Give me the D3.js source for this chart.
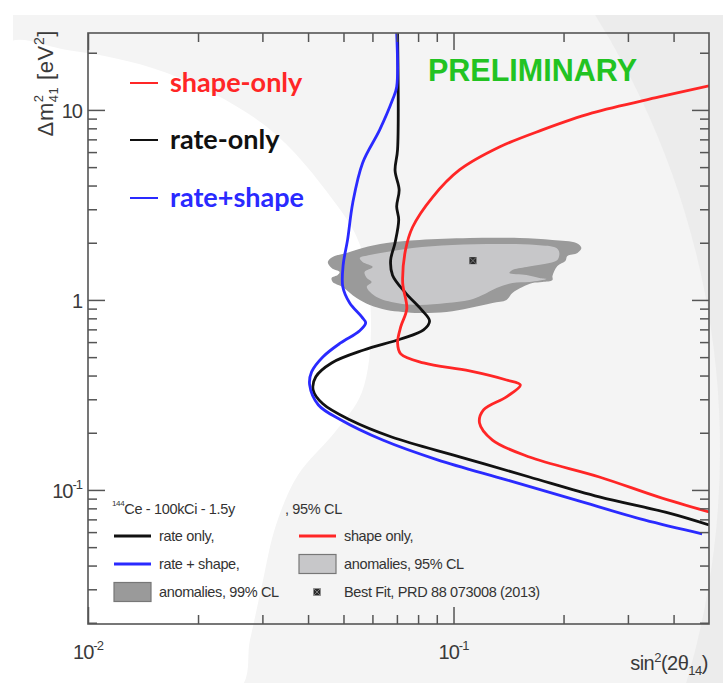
<!DOCTYPE html>
<html>
<head>
<meta charset="utf-8">
<script src="https://cdn.jsdelivr.net/npm/d3@7"></script>
<style>
  body { margin: 0; background: #fff; }
  svg { display: block; }
</style>
</head>
<body>
<svg id="chart" width="723" height="683"></svg>
<script>
// ---- axis ranges -------------------------------------------------------
const xDomain = [0.01, 0.5];        // sin^2(2θ14)
const yDomain = [0.0197, 25.4];     // Δm^2_41 [eV^2]

const xMajorTicks = [0.01, 0.1];
const xMinorTicks = [0.02, 0.03, 0.04, 0.05, 0.06, 0.07, 0.08, 0.09, 0.2, 0.3, 0.4];
const yMajorTicks = [0.1, 1, 10];
const yMinorTicks = [0.02, 0.03, 0.04, 0.05, 0.06, 0.07, 0.08, 0.09,
                     0.2, 0.3, 0.4, 0.5, 0.6, 0.7, 0.8, 0.9,
                     2, 3, 4, 5, 6, 7, 8, 9, 20];
const xTickLabels = [{ v: 0.01, base: "10", exp: "-2" }, { v: 0.1, base: "10", exp: "-1" }];
const yTickLabels = [{ v: 10, base: "10", exp: "" }, { v: 1, base: "1", exp: "" }, { v: 0.1, base: "10", exp: "-1" }];

// ---- exclusion contours, 95% CL (points: [sin^2(2θ), Δm^2]) --------------
const rateOnly = [
  [0.0703, 25.4], [0.0703, 6.2], [0.0692, 4.8], [0.0710, 3.8], [0.0699, 3.1],
  [0.0708, 2.64], [0.0692, 2.0], [0.0673, 1.62], [0.0681, 1.35], [0.0739, 1.09],
  [0.0818, 0.886], [0.0860, 0.775], [0.0828, 0.695], [0.0717, 0.623], [0.0568, 0.545],
  [0.0464, 0.466], [0.0420, 0.394], [0.0413, 0.336], [0.0439, 0.284], [0.0520, 0.234],
  [0.0677, 0.190], [0.1045, 0.149], [0.1613, 0.117], [0.2506, 0.0919], [0.3867, 0.0757],
  [0.5, 0.0654]
];
const rateShape = [
  [0.0699, 25.4], [0.0699, 13.2], [0.0681, 11.3], [0.0628, 7.85], [0.0564, 5.26],
  [0.0530, 3.24], [0.0513, 2.07], [0.0499, 1.53], [0.0498, 1.17], [0.0520, 0.964],
  [0.0561, 0.814], [0.0575, 0.757], [0.0552, 0.685], [0.0491, 0.594], [0.0439, 0.501],
  [0.0409, 0.418], [0.0404, 0.357], [0.0427, 0.280], [0.0491, 0.234], [0.0640, 0.183],
  [0.0904, 0.144], [0.1396, 0.113], [0.2154, 0.0886], [0.3325, 0.0695], [0.4786, 0.0587]
];
const shapeOnly = [
  [0.5, 13.4], [0.3654, 11.7], [0.2398, 9.64], [0.175, 7.85], [0.1335, 6.38],
  [0.1038, 4.83], [0.0877, 3.48], [0.0773, 2.42], [0.0739, 1.83], [0.0726, 1.23],
  [0.0745, 0.90], [0.0717, 0.721], [0.0703, 0.594], [0.0717, 0.52], [0.0828, 0.466],
  [0.1106, 0.423], [0.1396, 0.379], [0.1524, 0.357], [0.1396, 0.309], [0.1208, 0.264],
  [0.1178, 0.225], [0.1278, 0.183], [0.1613, 0.149], [0.2506, 0.117], [0.3632, 0.0919],
  [0.5, 0.0766]
];

// ---- reactor/gallium anomaly allowed regions ---------------------------
const anomalies99 = [
  [0.0453, 1.585], [0.0467, 1.684], [0.0510, 1.768], [0.0564, 1.878], [0.0656, 1.995],
  [0.0807, 2.07], [0.1106, 2.12], [0.1515, 2.12], [0.1865, 2.07], [0.2168, 1.995],
  [0.2238, 1.878], [0.2183, 1.768], [0.2049, 1.704], [0.2023, 1.604], [0.1924, 1.51],
  [0.1865, 1.338], [0.1865, 1.274], [0.1751, 1.244], [0.1644, 1.229], [0.1544, 1.171],
  [0.1449, 1.089], [0.1396, 1.0], [0.1278, 0.964], [0.1106, 0.908], [0.0957, 0.865],
  [0.0807, 0.854], [0.0725, 0.865], [0.0656, 0.886], [0.0590, 0.941], [0.0543, 1.024],
  [0.0497, 1.171], [0.0467, 1.244], [0.0464, 1.306], [0.0482, 1.354], [0.0488, 1.404],
  [0.0464, 1.474]
];
const anomalies95 = [
  [0.0554, 1.663], [0.0590, 1.725], [0.0656, 1.789], [0.0773, 1.878], [0.0994, 1.948],
  [0.1361, 1.971], [0.1686, 1.948], [0.1912, 1.878], [0.1948, 1.768], [0.1924, 1.624],
  [0.1829, 1.566], [0.1583, 1.492], [0.1449, 1.438], [0.1422, 1.387], [0.1583, 1.354],
  [0.1718, 1.306], [0.1795, 1.29], [0.1613, 1.244], [0.1449, 1.229], [0.1311, 1.157],
  [0.1200, 1.062], [0.1106, 1.0], [0.0957, 0.964], [0.0807, 0.941], [0.0699, 0.964],
  [0.0616, 1.037], [0.0579, 1.171], [0.0597, 1.244], [0.0579, 1.306], [0.0571, 1.404],
  [0.0601, 1.492], [0.0564, 1.585]
];
const bestFit = [0.113, 1.61];

// ---- colours -----------------------------------------------------------
const colRate = "#111111", colShape = "#ff2626", colBoth = "#2a2aff";
const col95 = "#c7c7c9", col99 = "#9a9a9a";

// ---- layout ------------------------------------------------------------
const W = 723, H = 683;
const plot = { left: 88, top: 33, right: 709, bottom: 624 };
const svg = d3.select("#chart");

const x = d3.scaleLog().domain(xDomain).range([plot.left, plot.right]);
const y = d3.scaleLog().domain(yDomain).range([plot.bottom, plot.top]);

// slide background: grey panel with soft light swirls
svg.append("rect").attr("width", W).attr("height", H).attr("fill", "#fff");
const bg = svg.append("g");
bg.append("clipPath").attr("id", "panel")
  .append("rect").attr("x", 13).attr("y", 15).attr("width", W - 13).attr("height", H - 15);
const bgInner = bg.append("g").attr("clip-path", "url(#panel)");
bgInner.append("rect").attr("x", 13).attr("y", 15).attr("width", W).attr("height", H).attr("fill", "#ececec");
bgInner.append("circle").attr("cx", -100).attr("cy", 450).attr("r", 820).attr("fill", "#f4f4f4");
const blob = [[0, 47], [67, 50], [167, 73], [267, 127], [333, 200], [360, 245], [371, 320],
              [362, 392], [335, 432], [298, 475], [276, 525], [262, 585], [250, 640], [238, 690],
              [0, 690]];
bgInner.append("path")
  .attr("d", d3.line().curve(d3.curveCatmullRomClosed)(blob))
  .attr("fill", "#ffffff");

// ---- plot area ---------------------------------------------------------
svg.append("clipPath").attr("id", "plotClip")
  .append("rect").attr("x", plot.left).attr("y", plot.top)
  .attr("width", plot.right - plot.left).attr("height", plot.bottom - plot.top);
const g = svg.append("g").attr("clip-path", "url(#plotClip)");

const area = d3.line().x(d => x(d[0])).y(d => y(d[1])).curve(d3.curveCatmullRomClosed.alpha(0.5));
g.append("path").attr("d", area(anomalies99)).attr("fill", col99);
g.append("path").attr("d", area(anomalies95)).attr("fill", col95);

const line = d3.line().x(d => x(d[0])).y(d => y(d[1])).curve(d3.curveCatmullRom.alpha(0.5));
[[rateOnly, colRate], [rateShape, colBoth], [shapeOnly, colShape]].forEach(([data, c]) => {
  g.append("path").attr("d", line(data)).attr("fill", "none")
    .attr("stroke", c).attr("stroke-width", 2.8).attr("stroke-linejoin", "round");
});

// best-fit marker
function bestFitMarker(sel, cx, cy) {
  sel.append("rect").attr("x", cx - 3.5).attr("y", cy - 3.5).attr("width", 7).attr("height", 7)
    .attr("fill", "#2a2a2a");
  sel.append("path")
    .attr("d", `M${cx - 3.5},${cy - 3.5}L${cx + 3.5},${cy + 3.5}M${cx + 3.5},${cy - 3.5}L${cx - 3.5},${cy + 3.5}`)
    .attr("stroke", "#777").attr("stroke-width", 1);
}
bestFitMarker(g, x(bestFit[0]), y(bestFit[1]));

// ---- axes (ROOT style: ticks inside on all four sides) -----------------
const axisCol = "#555";
function addAxis(axisFn, scale, ticks, size, transform) {
  const a = svg.append("g").attr("transform", transform)
    .call(axisFn(scale).tickValues(ticks).tickSize(-size).tickFormat(""));
  a.select(".domain").remove();
  a.selectAll("line").attr("stroke", axisCol).attr("stroke-width", 1.5);
}
addAxis(d3.axisBottom, x, xMajorTicks, 17, `translate(0,${plot.bottom})`);
addAxis(d3.axisBottom, x, xMinorTicks, 9, `translate(0,${plot.bottom})`);
addAxis(d3.axisTop, x, xMajorTicks, 17, `translate(0,${plot.top})`);
addAxis(d3.axisTop, x, xMinorTicks, 9, `translate(0,${plot.top})`);
addAxis(d3.axisLeft, y, yMajorTicks, 17, `translate(${plot.left},0)`);
addAxis(d3.axisLeft, y, yMinorTicks, 9, `translate(${plot.left},0)`);
addAxis(d3.axisRight, y, yMajorTicks, 17, `translate(${plot.right},0)`);
addAxis(d3.axisRight, y, yMinorTicks, 9, `translate(${plot.right},0)`);

svg.append("rect").attr("x", plot.left).attr("y", plot.top)
  .attr("width", plot.right - plot.left).attr("height", plot.bottom - plot.top)
  .attr("fill", "none").attr("stroke", axisCol).attr("stroke-width", 1.6);

// tick labels
const labelFont = "'Liberation Sans', Arial, sans-serif";
const txtCol = "#3a3a3a";
xTickLabels.forEach(t => {
  const tx = svg.append("text").attr("x", x(t.v)).attr("y", 659)
    .attr("text-anchor", "middle").attr("font-family", labelFont)
    .attr("font-size", 20).attr("fill", txtCol).attr("letter-spacing", -1);
  tx.append("tspan").text(t.base);
  if (t.exp) tx.append("tspan").attr("dy", -9).attr("font-size", 13).text(t.exp);
});
yTickLabels.forEach(t => {
  const tx = svg.append("text").attr("x", 82).attr("y", y(t.v) + 8)
    .attr("text-anchor", "end").attr("font-family", labelFont)
    .attr("font-size", 20).attr("fill", txtCol).attr("letter-spacing", -1);
  tx.append("tspan").text(t.base);
  if (t.exp) tx.append("tspan").attr("dy", -9).attr("font-size", 13).text(t.exp);
});

// axis titles
const xt = svg.append("text").attr("x", 708).attr("y", 670).attr("text-anchor", "end")
  .attr("font-family", labelFont).attr("font-size", 20).attr("fill", txtCol).attr("letter-spacing", -0.5);
xt.append("tspan").text("sin");
xt.append("tspan").attr("dy", -8).attr("font-size", 13).text("2");
xt.append("tspan").attr("dy", 8).text("(2θ");
xt.append("tspan").attr("dy", 5).attr("font-size", 13).text("14");
xt.append("tspan").attr("dy", -5).text(")");

const yt = svg.append("text").attr("transform", "translate(53,30) rotate(-90)")
  .attr("text-anchor", "end").attr("font-family", labelFont).attr("font-size", 22)
  .attr("fill", txtCol).attr("letter-spacing", 0.6);
yt.append("tspan").text("Δm");
yt.append("tspan").attr("dy", -10).attr("font-size", 13).text("2");
yt.append("tspan").attr("dx", -8).attr("dy", 15).attr("font-size", 13).text("41");
yt.append("tspan").attr("dy", -5).text(" [eV");
yt.append("tspan").attr("dy", -9).attr("font-size", 14).text("2");
yt.append("tspan").attr("dy", 9).text("]");

// ---- big legend (top left) ----------------------------------------------
const bigFont = "Lato, 'Open Sans', sans-serif";
const bigLegend = [
  { label: "shape-only", color: colShape, y: 83 },
  { label: "rate-only", color: colRate, y: 140 },
  { label: "rate+shape", color: colBoth, y: 198 }
];
bigLegend.forEach(d => {
  svg.append("line").attr("x1", 130).attr("x2", 158).attr("y1", d.y).attr("y2", d.y)
    .attr("stroke", d.color).attr("stroke-width", 2);
  svg.append("text").attr("x", 170).attr("y", d.y + 9).attr("font-family", bigFont)
    .attr("font-weight", 700).attr("font-size", 27).attr("fill", d.color).text(d.label);
});

svg.append("text").attr("x", 428).attr("y", 81).attr("font-family", labelFont)
  .attr("font-weight", 700).attr("font-size", 30.5).attr("fill", "#22c322").text("PRELIMINARY");

// ---- ROOT legend (bottom left) -------------------------------------------
const smallFont = "'Liberation Sans', Arial, sans-serif";
const lg = svg.append("g").attr("font-family", smallFont).attr("font-size", 14.5)
  .attr("fill", "#333").attr("letter-spacing", -0.35);
const head = lg.append("text").attr("x", 112).attr("y", 514);
head.append("tspan").attr("font-size", 8).attr("dy", -8).text("144");
head.append("tspan").attr("dy", 8).text("Ce - 100kCi - 1.5y");
lg.append("text").attr("x", 285).attr("y", 514).text(", 95% CL");

const legendRows = [
  { kind: "line", color: colRate, label: "rate only,", col: 0, row: 0 },
  { kind: "line", color: colShape, label: "shape only,", col: 1, row: 0 },
  { kind: "line", color: colBoth, label: "rate + shape,", col: 0, row: 1 },
  { kind: "box", color: col95, label: "anomalies, 95% CL", col: 1, row: 1 },
  { kind: "box", color: col99, label: "anomalies, 99% CL", col: 0, row: 2 },
  { kind: "marker", color: "#222", label: "Best Fit, PRD 88 073008 (2013)", col: 1, row: 2 }
];
legendRows.forEach(d => {
  const x0 = d.col === 0 ? 114 : 299;
  const cy = 536 + d.row * 28;
  if (d.kind === "line") {
    lg.append("line").attr("x1", x0).attr("x2", x0 + 37).attr("y1", cy).attr("y2", cy)
      .attr("stroke", d.color).attr("stroke-width", 3);
  } else if (d.kind === "box") {
    lg.append("rect").attr("x", x0).attr("y", cy - 9.5).attr("width", 37).attr("height", 19)
      .attr("fill", d.color).attr("stroke", "#777").attr("stroke-width", 1.2);
  } else {
    bestFitMarker(lg, x0 + 18, cy);
  }
  lg.append("text").attr("x", x0 + 45).attr("y", cy + 5).text(d.label);
});
</script>
</body>
</html>
